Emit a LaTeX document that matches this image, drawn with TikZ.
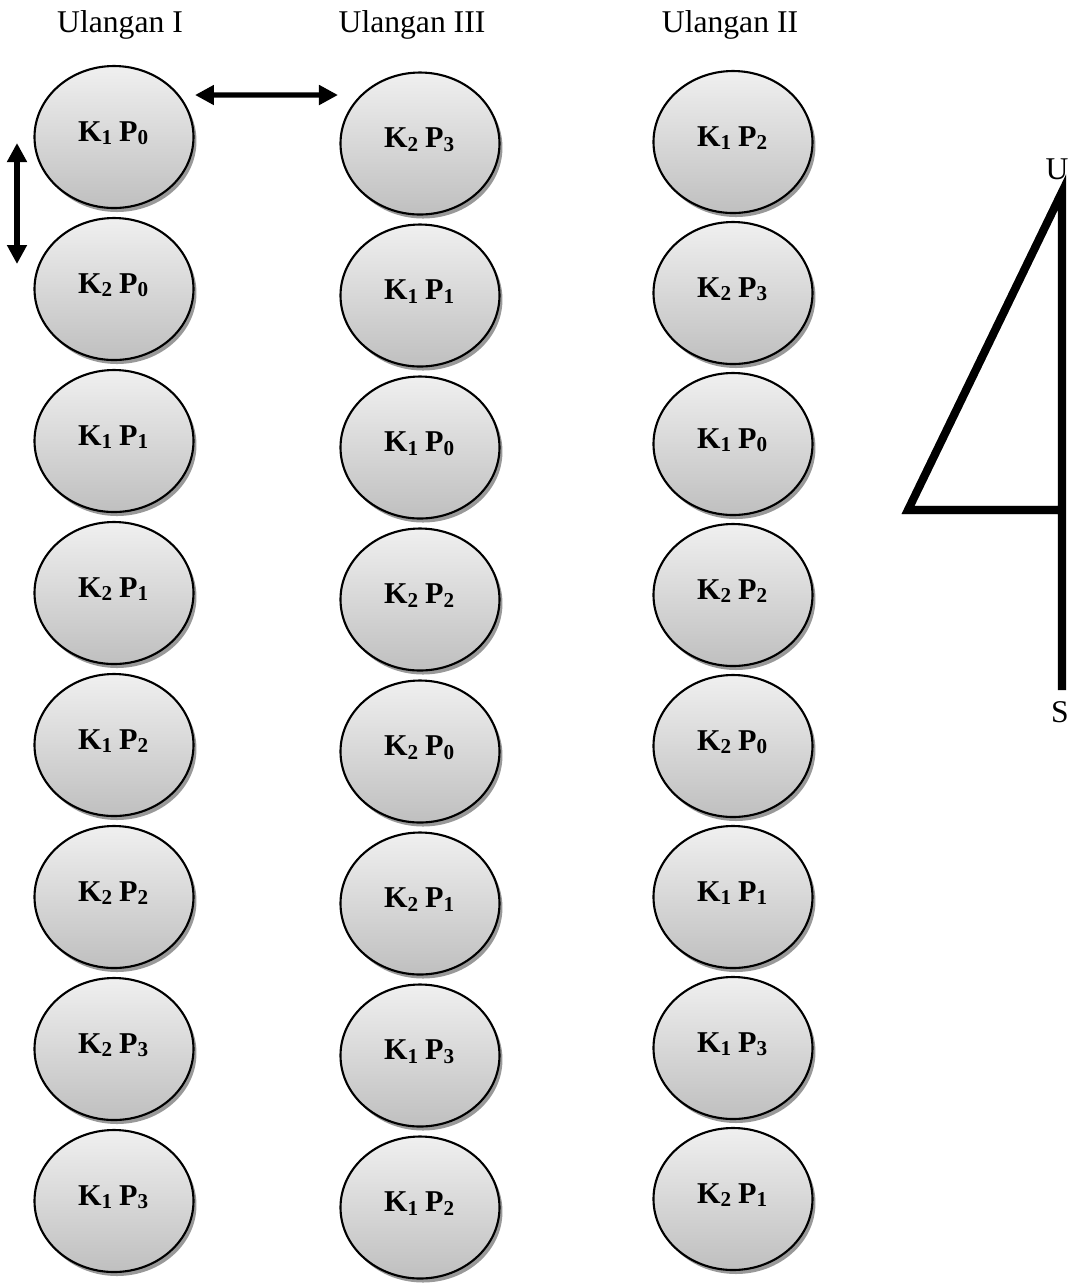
\documentclass[tikz,border=0pt]{standalone}
\usepackage{fontspec}
\setmainfont{Liberation Serif}
\usetikzlibrary{arrows.meta,calc,shapes.geometric,shadows}
\newcommand{\KP}[2]{K\textsubscript{#1}\,P\textsubscript{#2}}

\begin{document}
\begin{tikzpicture}[
  plot/.style={ellipse,draw=black,line width=0.6pt,
    minimum width=1.59cm,minimum height=1.42cm,inner sep=0pt,
    text height=2.2mm,text depth=1.4mm,
    top color=black!6,bottom color=black!25,
    drop shadow={shadow xshift=0.3mm,shadow yshift=-0.4mm,fill=black!40,opacity=1},
    font=\fontsize{8.6}{10}\selectfont\bfseries},
  head/.style={anchor=base,font=\fontsize{9}{11}\selectfont},
  dbl/.style={{Triangle[length=1.9mm,width=1.9mm]}-{Triangle[length=1.9mm,width=1.9mm]},line width=1.5pt},
  compass/.style={line width=2.3pt,line join=miter}]
\useasboundingbox (0,0) rectangle (10.70,-12.86);

% headings
\node[head] (h1) at (1.20,-0.32) {Ulangan I};
\node[head] (h3) at (4.12,-0.32) {Ulangan III};
\node[head] (h2) at (7.30,-0.32) {Ulangan II};

% Ulangan I
\foreach \k/\p [count=\i from 0] in {1/0,2/0,1/1,2/1,1/2,2/2,2/3,1/3}
  \node[plot] (a\i) at (1.14,{-1.37-1.52*\i}) {\KP{\k}{\p}};

% Ulangan III
\foreach \k/\p [count=\i from 0] in {2/3,1/1,1/0,2/2,2/0,2/1,1/3,1/2}
  \node[plot] (b\i) at (4.20,{-1.435-1.52*\i}) {\KP{\k}{\p}};

% Ulangan II
\foreach \k/\p [count=\i from 0] in {1/2,2/3,1/0,2/2,2/0,1/1,1/3,2/1}
  \node[plot] (c\i) at (7.33,{-1.42-1.51*\i}) {\KP{\k}{\p}};

% spacing arrows
\coordinate (hl) at ($(a0.center)+(0.81,0.42)$);
\coordinate (hr) at ($(b0.center)+(-0.82,0.485)$);
\draw[dbl] (hl) -- (hr);
\coordinate (vt) at ($(a0.center)+(-0.97,-0.06)$);
\coordinate (vb) at ($(a1.center)+(-0.97,0.25)$);
\draw[dbl] (vt) -- (vb);

% compass
\coordinate (N) at (10.62,-1.92);
\coordinate (W) at (9.08,-5.10);
\coordinate (M) at (10.62,-5.10);
\coordinate (Sd) at (10.62,-6.90);
\draw[compass,black!35,shift={(0.03,-0.05)}] (N) -- (W) -- (M);
\draw[compass] (Sd) -- (N) -- (W) -- (M);
\node[head] (u) at (10.57,-1.79) {U};
\node[head] (s) at (10.60,-7.22) {S};
\end{tikzpicture}
\end{document}
